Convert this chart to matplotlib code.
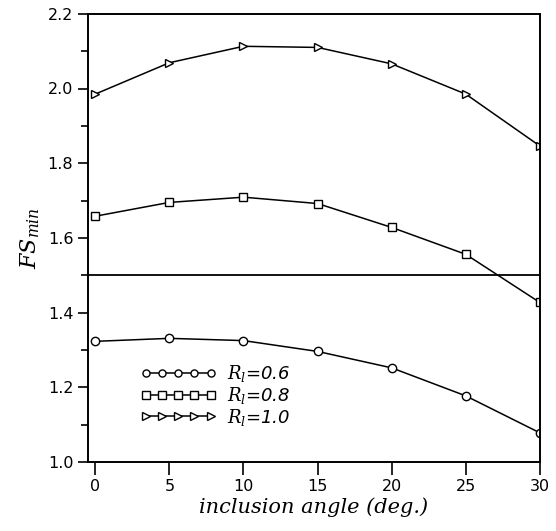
import matplotlib.pyplot as plt
from matplotlib.ticker import MultipleLocator

plt.rcParams['mathtext.fontset'] = 'dejavuserif'

# datos
angulo = [0, 5, 10, 15, 20, 25, 30]
fs_06 = [1.323, 1.331, 1.325, 1.296, 1.252, 1.177, 1.078]
fs_08 = [1.658, 1.695, 1.709, 1.692, 1.628, 1.556, 1.427]
fs_10 = [1.985, 2.069, 2.113, 2.110, 2.066, 1.985, 1.846]
fs_limite = 1.5

etiquetas = [r'$R_l$=0.6', r'$R_l$=0.8', r'$R_l$=1.0']

fig = plt.figure(figsize=(5.56, 5.31), dpi=100)
ax = fig.add_axes([0.158, 0.130, 0.813, 0.844])

estilo = dict(color='black', lw=1.1, mfc='white', mec='black', mew=1.0, ms=6)
ax.plot(angulo, fs_06, marker='o', label=etiquetas[0], **estilo)
ax.plot(angulo, fs_08, marker='s', label=etiquetas[1], **estilo)
ax.plot(angulo, fs_10, marker='>', label=etiquetas[2], **estilo)
ax.axhline(fs_limite, color='black', lw=1.3)

ax.set_xlim(-0.5, 30)
ax.set_ylim(1.0, 2.2)
ax.xaxis.set_major_locator(MultipleLocator(5))
ax.yaxis.set_major_locator(MultipleLocator(0.2))
ax.yaxis.set_minor_locator(MultipleLocator(0.1))
ax.yaxis.set_major_formatter(plt.FormatStrFormatter('%.1f'))
ax.tick_params(axis='both', direction='out', labelsize=11.5, width=1.2)
ax.tick_params(axis='x', length=9)
ax.tick_params(axis='y', which='major', length=7)
ax.tick_params(axis='y', which='minor', length=5, width=1.2)
for s in ax.spines.values():
    s.set_linewidth(1.4)

ax.set_xlabel('inclusion angle (deg.)', fontsize=15, family='DejaVu Serif',
              style='italic', labelpad=2)
ax.set_ylabel(r'$FS_{min}$', fontsize=16, labelpad=4)

ley = ax.legend(loc='lower left', bbox_to_anchor=(0.08, 0.04), frameon=False,
                numpoints=5, handlelength=4.2, markerscale=0.85,
                labelspacing=0.05, handletextpad=0.6,
                prop={'style': 'italic', 'size': 13})

plt.savefig('out.png')
